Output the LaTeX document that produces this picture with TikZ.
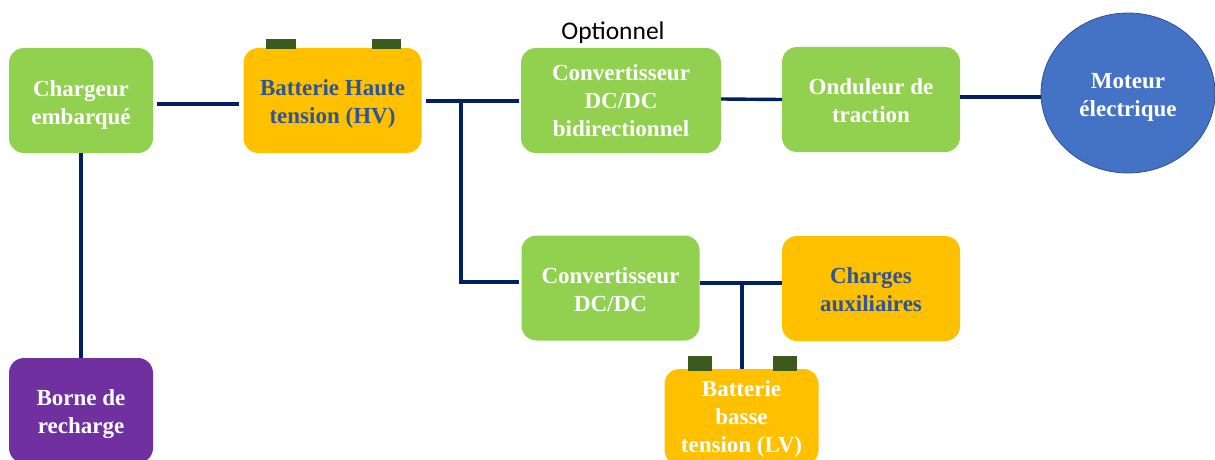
\documentclass[tikz,border=0pt]{standalone}
\usetikzlibrary{shapes.geometric}
\usepackage{fontspec}
\setmainfont{Liberation Serif}
\newfontfamily\carl{Carlito}
\definecolor{grn}{HTML}{92D050}
\definecolor{org}{HTML}{FFC000}
\definecolor{pur}{HTML}{7030A0}
\definecolor{blu}{HTML}{4472C4}
\definecolor{blud}{HTML}{2F528F}
\definecolor{nav}{HTML}{002060}
\definecolor{term}{HTML}{3B5A1E}
\definecolor{ttxt}{HTML}{2F5597}
\newcommand\tx[2]{\raisebox{\dimexpr-5.75pt-#1pt\relax}[0pt][0pt]{\begin{tabular}{@{}c@{}}#2\end{tabular}}}
\tikzset{x=1pt,y=-1pt,
 lbl/.style={font=\fontsize{23}{28}\selectfont\bfseries,text=white,inner sep=0pt},
 box/.style={lbl,rounded corners=15pt,minimum width=#1,minimum height=105},
 gbox/.style={box=#1,fill=grn},
 obox/.style={box=#1,fill=org,text=ttxt},
 wire/.style={draw=nav,line width=3.4pt},
 termb/.style={fill=term,inner sep=0pt}}
\begin{document}
\begin{tikzpicture}
\useasboundingbox (0,0) rectangle (1215,460);
\fill[white] (0,0) rectangle (1215,460);
\clip (0,0) rectangle (1215,460);
\node[gbox=144] (chg) at (81,100.5) {\tx{5}{Chargeur\\embarqué}};
\node[box=144,fill=pur] (brn) at (81,410.5) {\tx{4}{Borne de\\recharge}};
\node[obox=178] (bat) at (332.5,100.5) {\tx{4}{Batterie Haute\\tension (HV)}};
\node[gbox=200] (cv1) at (621,100.5) {\tx{3}{Convertisseur\\DC/DC\\bidirectionnel}};
\node[gbox=178] (ond) at (871,99.5) {\tx{4}{Onduleur de\\traction}};
\node[ellipse,lbl,draw=blud,fill=blu,line width=0.8pt,minimum width=174,minimum height=160] (mot) at (1128,93) {\tx{4}{Moteur\\électrique}};
\node[gbox=178] (cv2) at (610.5,288) {\tx{4}{Convertisseur\\DC/DC}};
\node[obox=178] (aux) at (871,288.5) {\tx{3.5}{Charges\\auxiliaires}};
\node[box=154,fill=org,minimum height=96] (lv) at (741.5,417) {\tx{2.5}{Batterie\\basse\\tension (LV)}};
\node[termb,minimum width=30,minimum height=10] (t1) at (281,44) {};
\node[termb,minimum width=29,minimum height=10] (t2) at (386.5,44.5) {};
\node[termb,minimum width=24,minimum height=15] (t3) at (700,363) {};
\node[termb,minimum width=24,minimum height=15] (t4) at (785,363) {};
\node[font=\carl\fontsize{25.5}{28}\selectfont,text=black,inner sep=0pt] (opt) at (613,33) {Optionnel};
\coordinate (a1) at (157,104);
\coordinate (a2) at (239,104);
\coordinate (b1) at (426,101);
\coordinate (b2) at (519,101);
\coordinate (j1) at (461,101);
\coordinate (j2) at (461,282);
\coordinate (c2) at (519,282);
\coordinate (d1) at (721,99);
\coordinate (d2) at (782,99.5);
\coordinate (e1) at (960,97);
\coordinate (e2) at (1041,97);
\coordinate (f1) at (700,283);
\coordinate (f2) at (782,283);
\coordinate (j3) at (742,283);
\coordinate (g1) at (742,369);
\draw[wire] (a1) -- (a2);
\draw[wire] (chg) -- (brn);
\draw[wire] (b1) -- (b2);
\draw[wire] (j1) -- (j2) -- (c2);
\draw[wire] (d1) -- (d2);
\draw[wire] (e1) -- (e2);
\draw[wire] (f1) -- (f2);
\draw[wire] (j3) -- (g1);
\end{tikzpicture}
\end{document}
